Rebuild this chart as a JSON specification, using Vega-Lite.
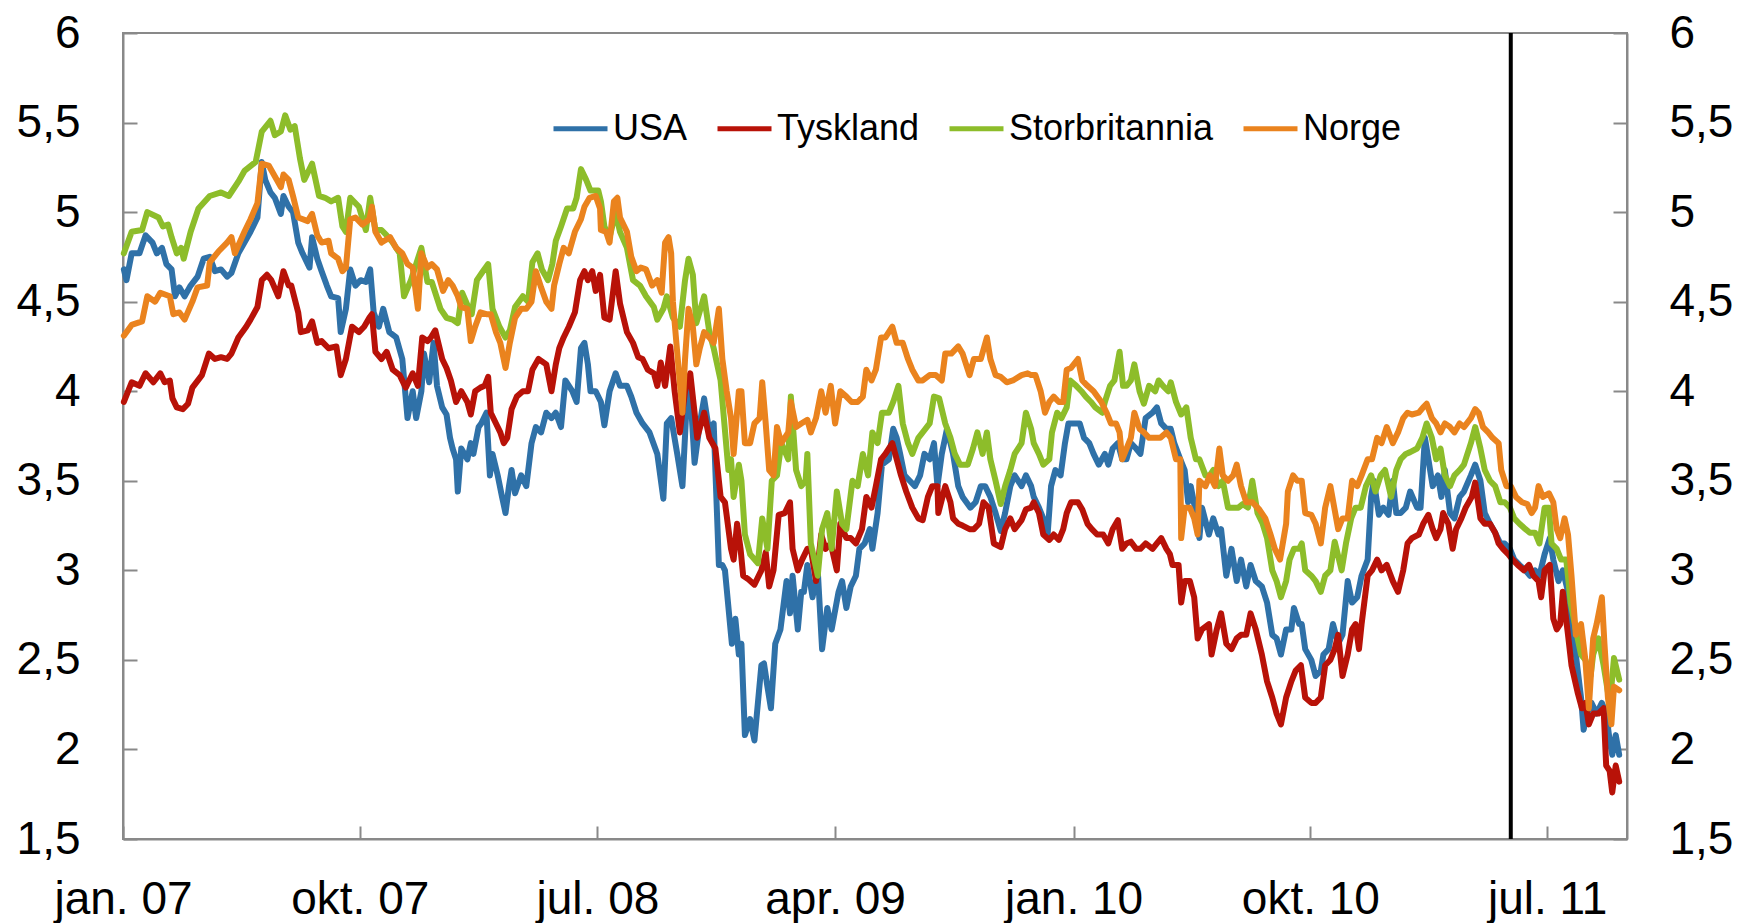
{
"$schema":"https://vega.github.io/schema/vega-lite/v6.json",
"width":1504,"height":806,
"autosize":{"type":"none"},
"padding":{"left":123,"top":33,"right":111,"bottom":84},
"background":"white",
"config":{
"view":{"stroke":"#898989","strokeWidth":2},
"font":"Liberation Sans",
"axis":{"domainColor":"#898989","domainWidth":2,"tickColor":"#898989","tickWidth":2,"grid":false,"labelColor":"#000000","labelFont":"Liberation Sans","labelFontSize":46,"title":null,"labelOverlap":false,"labelFlush":false,"labelBound":false}
},
"layer":[
{"data":{"values":[
{"d":"2007-01-02","s":"USA","v":4.68},{"d":"2007-01-05","s":"USA","v":4.62},{"d":"2007-01-11","s":"USA","v":4.77},{"d":"2007-01-20","s":"USA","v":4.77},{"d":"2007-01-27","s":"USA","v":4.87},{"d":"2007-02-04","s":"USA","v":4.83},{"d":"2007-02-09","s":"USA","v":4.77},{"d":"2007-02-15","s":"USA","v":4.80},{"d":"2007-02-20","s":"USA","v":4.71},{"d":"2007-02-26","s":"USA","v":4.68},{"d":"2007-03-02","s":"USA","v":4.53},{"d":"2007-03-07","s":"USA","v":4.58},{"d":"2007-03-13","s":"USA","v":4.53},{"d":"2007-03-20","s":"USA","v":4.59},{"d":"2007-03-28","s":"USA","v":4.64},{"d":"2007-04-04","s":"USA","v":4.74},{"d":"2007-04-11","s":"USA","v":4.75},{"d":"2007-04-17","s":"USA","v":4.67},{"d":"2007-04-24","s":"USA","v":4.68},{"d":"2007-05-01","s":"USA","v":4.64},{"d":"2007-05-06","s":"USA","v":4.66},{"d":"2007-05-14","s":"USA","v":4.77},{"d":"2007-05-21","s":"USA","v":4.83},{"d":"2007-05-28","s":"USA","v":4.89},{"d":"2007-06-05","s":"USA","v":4.97},{"d":"2007-06-10","s":"USA","v":5.28},{"d":"2007-06-14","s":"USA","v":5.18},{"d":"2007-06-20","s":"USA","v":5.11},{"d":"2007-06-25","s":"USA","v":5.08},{"d":"2007-07-02","s":"USA","v":4.99},{"d":"2007-07-05","s":"USA","v":5.09},{"d":"2007-07-11","s":"USA","v":5.03},{"d":"2007-07-16","s":"USA","v":5.00},{"d":"2007-07-22","s":"USA","v":4.83},{"d":"2007-07-27","s":"USA","v":4.77},{"d":"2007-08-04","s":"USA","v":4.69},{"d":"2007-08-07","s":"USA","v":4.86},{"d":"2007-08-13","s":"USA","v":4.74},{"d":"2007-08-18","s":"USA","v":4.67},{"d":"2007-08-24","s":"USA","v":4.59},{"d":"2007-08-29","s":"USA","v":4.53},{"d":"2007-09-06","s":"USA","v":4.52},{"d":"2007-09-09","s":"USA","v":4.33},{"d":"2007-09-15","s":"USA","v":4.46},{"d":"2007-09-20","s":"USA","v":4.68},{"d":"2007-09-26","s":"USA","v":4.59},{"d":"2007-10-02","s":"USA","v":4.62},{"d":"2007-10-08","s":"USA","v":4.61},{"d":"2007-10-13","s":"USA","v":4.68},{"d":"2007-10-17","s":"USA","v":4.44},{"d":"2007-10-23","s":"USA","v":4.36},{"d":"2007-10-28","s":"USA","v":4.46},{"d":"2007-11-04","s":"USA","v":4.33},{"d":"2007-11-12","s":"USA","v":4.30},{"d":"2007-11-19","s":"USA","v":4.18},{"d":"2007-11-25","s":"USA","v":3.85},{"d":"2007-12-01","s":"USA","v":4.00},{"d":"2007-12-05","s":"USA","v":3.85},{"d":"2007-12-11","s":"USA","v":4.00},{"d":"2007-12-14","s":"USA","v":4.21},{"d":"2007-12-20","s":"USA","v":4.05},{"d":"2007-12-25","s":"USA","v":4.27},{"d":"2007-12-29","s":"USA","v":4.03},
{"d":"2008-01-04","s":"USA","v":3.91},{"d":"2008-01-09","s":"USA","v":3.87},{"d":"2008-01-13","s":"USA","v":3.74},{"d":"2008-01-16","s":"USA","v":3.68},{"d":"2008-01-20","s":"USA","v":3.62},{"d":"2008-01-22","s":"USA","v":3.44},{"d":"2008-01-26","s":"USA","v":3.68},{"d":"2008-02-02","s":"USA","v":3.62},{"d":"2008-02-06","s":"USA","v":3.71},{"d":"2008-02-09","s":"USA","v":3.65},{"d":"2008-02-15","s":"USA","v":3.80},{"d":"2008-02-18","s":"USA","v":3.82},{"d":"2008-02-24","s":"USA","v":3.88},{"d":"2008-02-28","s":"USA","v":3.53},{"d":"2008-03-02","s":"USA","v":3.65},{"d":"2008-03-08","s":"USA","v":3.53},{"d":"2008-03-13","s":"USA","v":3.41},{"d":"2008-03-17","s":"USA","v":3.32},{"d":"2008-03-21","s":"USA","v":3.47},{"d":"2008-03-24","s":"USA","v":3.56},{"d":"2008-03-28","s":"USA","v":3.43},{"d":"2008-04-04","s":"USA","v":3.53},{"d":"2008-04-10","s":"USA","v":3.47},{"d":"2008-04-16","s":"USA","v":3.71},{"d":"2008-04-21","s":"USA","v":3.80},{"d":"2008-04-27","s":"USA","v":3.77},{"d":"2008-05-03","s":"USA","v":3.88},{"d":"2008-05-09","s":"USA","v":3.85},{"d":"2008-05-14","s":"USA","v":3.88},{"d":"2008-05-20","s":"USA","v":3.80},{"d":"2008-05-25","s":"USA","v":4.06},{"d":"2008-06-02","s":"USA","v":4.00},{"d":"2008-06-07","s":"USA","v":3.94},{"d":"2008-06-12","s":"USA","v":4.24},{"d":"2008-06-16","s":"USA","v":4.27},{"d":"2008-06-20","s":"USA","v":4.15},{"d":"2008-06-23","s":"USA","v":4.00},{"d":"2008-06-29","s":"USA","v":4.00},{"d":"2008-07-05","s":"USA","v":3.94},{"d":"2008-07-09","s":"USA","v":3.81},{"d":"2008-07-15","s":"USA","v":4.00},{"d":"2008-07-22","s":"USA","v":4.10},{"d":"2008-07-27","s":"USA","v":4.03},{"d":"2008-08-04","s":"USA","v":4.03},{"d":"2008-08-09","s":"USA","v":3.97},{"d":"2008-08-15","s":"USA","v":3.88},{"d":"2008-08-22","s":"USA","v":3.82},{"d":"2008-08-30","s":"USA","v":3.77},{"d":"2008-09-08","s":"USA","v":3.65},{"d":"2008-09-15","s":"USA","v":3.40},{"d":"2008-09-19","s":"USA","v":3.82},{"d":"2008-09-24","s":"USA","v":3.85},{"d":"2008-10-01","s":"USA","v":3.65},{"d":"2008-10-07","s":"USA","v":3.47},{"d":"2008-10-12","s":"USA","v":3.94},{"d":"2008-10-16","s":"USA","v":4.00},{"d":"2008-10-21","s":"USA","v":3.60},{"d":"2008-10-27","s":"USA","v":3.82},{"d":"2008-11-01","s":"USA","v":3.96},{"d":"2008-11-07","s":"USA","v":3.77},{"d":"2008-11-12","s":"USA","v":3.82},{"d":"2008-11-18","s":"USA","v":3.03},{"d":"2008-11-22","s":"USA","v":3.03},{"d":"2008-11-25","s":"USA","v":3.00},{"d":"2008-12-02","s":"USA","v":2.64},{"d":"2008-12-03","s":"USA","v":2.59},{"d":"2008-12-07","s":"USA","v":2.73},{"d":"2008-12-11","s":"USA","v":2.53},{"d":"2008-12-14","s":"USA","v":2.59},{"d":"2008-12-18","s":"USA","v":2.08},{"d":"2008-12-24","s":"USA","v":2.17},{"d":"2008-12-29","s":"USA","v":2.05},
{"d":"2009-01-06","s":"USA","v":2.47},{"d":"2009-01-09","s":"USA","v":2.48},{"d":"2009-01-13","s":"USA","v":2.35},{"d":"2009-01-17","s":"USA","v":2.23},{"d":"2009-01-22","s":"USA","v":2.59},{"d":"2009-01-28","s":"USA","v":2.67},{"d":"2009-02-04","s":"USA","v":2.94},{"d":"2009-02-08","s":"USA","v":2.76},{"d":"2009-02-11","s":"USA","v":2.97},{"d":"2009-02-17","s":"USA","v":2.67},{"d":"2009-02-21","s":"USA","v":2.88},{"d":"2009-02-24","s":"USA","v":2.88},{"d":"2009-02-28","s":"USA","v":3.03},{"d":"2009-03-06","s":"USA","v":2.85},{"d":"2009-03-12","s":"USA","v":3.00},{"d":"2009-03-17","s":"USA","v":2.56},{"d":"2009-03-23","s":"USA","v":2.79},{"d":"2009-03-28","s":"USA","v":2.67},{"d":"2009-04-05","s":"USA","v":2.88},{"d":"2009-04-09","s":"USA","v":2.94},{"d":"2009-04-14","s":"USA","v":2.79},{"d":"2009-04-19","s":"USA","v":2.91},{"d":"2009-04-25","s":"USA","v":2.97},{"d":"2009-04-29","s":"USA","v":3.12},{"d":"2009-05-05","s":"USA","v":3.15},{"d":"2009-05-11","s":"USA","v":3.23},{"d":"2009-05-14","s":"USA","v":3.12},{"d":"2009-05-20","s":"USA","v":3.32},{"d":"2009-05-25","s":"USA","v":3.59},{"d":"2009-06-02","s":"USA","v":3.62},{"d":"2009-06-07","s":"USA","v":3.79},{"d":"2009-06-11","s":"USA","v":3.74},{"d":"2009-06-15","s":"USA","v":3.65},{"d":"2009-06-20","s":"USA","v":3.53},{"d":"2009-06-26","s":"USA","v":3.50},{"d":"2009-07-02","s":"USA","v":3.47},{"d":"2009-07-08","s":"USA","v":3.53},{"d":"2009-07-13","s":"USA","v":3.65},{"d":"2009-07-19","s":"USA","v":3.62},{"d":"2009-07-24","s":"USA","v":3.71},{"d":"2009-07-28","s":"USA","v":3.47},{"d":"2009-08-02","s":"USA","v":3.65},{"d":"2009-08-08","s":"USA","v":3.79},{"d":"2009-08-15","s":"USA","v":3.65},{"d":"2009-08-21","s":"USA","v":3.47},{"d":"2009-08-26","s":"USA","v":3.41},{"d":"2009-09-04","s":"USA","v":3.35},{"d":"2009-09-10","s":"USA","v":3.38},{"d":"2009-09-16","s":"USA","v":3.47},{"d":"2009-09-21","s":"USA","v":3.47},{"d":"2009-09-27","s":"USA","v":3.41},{"d":"2009-10-03","s":"USA","v":3.32},{"d":"2009-10-09","s":"USA","v":3.22},{"d":"2009-10-14","s":"USA","v":3.32},{"d":"2009-10-20","s":"USA","v":3.47},{"d":"2009-10-25","s":"USA","v":3.53},{"d":"2009-11-02","s":"USA","v":3.47},{"d":"2009-11-07","s":"USA","v":3.53},{"d":"2009-11-13","s":"USA","v":3.47},{"d":"2009-11-16","s":"USA","v":3.41},{"d":"2009-11-22","s":"USA","v":3.35},{"d":"2009-11-27","s":"USA","v":3.29},{"d":"2009-12-02","s":"USA","v":3.20},{"d":"2009-12-06","s":"USA","v":3.47},{"d":"2009-12-11","s":"USA","v":3.56},{"d":"2009-12-17","s":"USA","v":3.53},{"d":"2009-12-22","s":"USA","v":3.71},{"d":"2009-12-26","s":"USA","v":3.82},
{"d":"2010-01-02","s":"USA","v":3.82},{"d":"2010-01-08","s":"USA","v":3.82},{"d":"2010-01-13","s":"USA","v":3.74},{"d":"2010-01-19","s":"USA","v":3.71},{"d":"2010-01-24","s":"USA","v":3.65},{"d":"2010-01-30","s":"USA","v":3.59},{"d":"2010-02-06","s":"USA","v":3.65},{"d":"2010-02-10","s":"USA","v":3.59},{"d":"2010-02-15","s":"USA","v":3.68},{"d":"2010-02-21","s":"USA","v":3.71},{"d":"2010-02-26","s":"USA","v":3.62},{"d":"2010-03-03","s":"USA","v":3.62},{"d":"2010-03-08","s":"USA","v":3.71},{"d":"2010-03-14","s":"USA","v":3.68},{"d":"2010-03-19","s":"USA","v":3.65},{"d":"2010-03-25","s":"USA","v":3.85},{"d":"2010-04-02","s":"USA","v":3.88},{"d":"2010-04-07","s":"USA","v":3.91},{"d":"2010-04-12","s":"USA","v":3.82},{"d":"2010-04-18","s":"USA","v":3.79},{"d":"2010-04-23","s":"USA","v":3.79},{"d":"2010-04-27","s":"USA","v":3.71},{"d":"2010-05-04","s":"USA","v":3.62},{"d":"2010-05-09","s":"USA","v":3.56},{"d":"2010-05-13","s":"USA","v":3.38},{"d":"2010-05-16","s":"USA","v":3.47},{"d":"2010-05-22","s":"USA","v":3.32},{"d":"2010-05-26","s":"USA","v":3.18},{"d":"2010-05-29","s":"USA","v":3.35},{"d":"2010-06-06","s":"USA","v":3.20},{"d":"2010-06-11","s":"USA","v":3.29},{"d":"2010-06-17","s":"USA","v":3.20},{"d":"2010-06-20","s":"USA","v":3.23},{"d":"2010-06-26","s":"USA","v":2.97},{"d":"2010-07-02","s":"USA","v":3.12},{"d":"2010-07-08","s":"USA","v":2.94},{"d":"2010-07-13","s":"USA","v":3.06},{"d":"2010-07-19","s":"USA","v":2.91},{"d":"2010-07-24","s":"USA","v":3.03},{"d":"2010-07-30","s":"USA","v":2.94},{"d":"2010-08-06","s":"USA","v":2.91},{"d":"2010-08-12","s":"USA","v":2.82},{"d":"2010-08-18","s":"USA","v":2.64},{"d":"2010-08-23","s":"USA","v":2.62},{"d":"2010-08-28","s":"USA","v":2.53},{"d":"2010-09-03","s":"USA","v":2.67},{"d":"2010-09-09","s":"USA","v":2.67},{"d":"2010-09-12","s":"USA","v":2.79},{"d":"2010-09-18","s":"USA","v":2.70},{"d":"2010-09-21","s":"USA","v":2.70},{"d":"2010-09-25","s":"USA","v":2.56},{"d":"2010-10-02","s":"USA","v":2.50},{"d":"2010-10-07","s":"USA","v":2.41},{"d":"2010-10-13","s":"USA","v":2.44},{"d":"2010-10-16","s":"USA","v":2.53},{"d":"2010-10-22","s":"USA","v":2.56},{"d":"2010-10-27","s":"USA","v":2.70},{"d":"2010-11-02","s":"USA","v":2.59},{"d":"2010-11-07","s":"USA","v":2.64},{"d":"2010-11-13","s":"USA","v":2.94},{"d":"2010-11-18","s":"USA","v":2.82},{"d":"2010-11-24","s":"USA","v":2.85},{"d":"2010-11-29","s":"USA","v":2.97},{"d":"2010-12-06","s":"USA","v":3.06},{"d":"2010-12-10","s":"USA","v":3.41},{"d":"2010-12-13","s":"USA","v":3.50},{"d":"2010-12-19","s":"USA","v":3.31},{"d":"2010-12-24","s":"USA","v":3.35},{"d":"2010-12-30","s":"USA","v":3.31},
{"d":"2011-01-04","s":"USA","v":3.50},{"d":"2011-01-08","s":"USA","v":3.32},{"d":"2011-01-13","s":"USA","v":3.32},{"d":"2011-01-19","s":"USA","v":3.35},{"d":"2011-01-24","s":"USA","v":3.44},{"d":"2011-02-01","s":"USA","v":3.35},{"d":"2011-02-05","s":"USA","v":3.35},{"d":"2011-02-10","s":"USA","v":3.74},{"d":"2011-02-14","s":"USA","v":3.62},{"d":"2011-02-19","s":"USA","v":3.47},{"d":"2011-02-25","s":"USA","v":3.53},{"d":"2011-03-01","s":"USA","v":3.41},{"d":"2011-03-05","s":"USA","v":3.56},{"d":"2011-03-11","s":"USA","v":3.32},{"d":"2011-03-16","s":"USA","v":3.29},{"d":"2011-03-22","s":"USA","v":3.41},{"d":"2011-03-27","s":"USA","v":3.44},{"d":"2011-04-04","s":"USA","v":3.53},{"d":"2011-04-09","s":"USA","v":3.59},{"d":"2011-04-15","s":"USA","v":3.50},{"d":"2011-04-20","s":"USA","v":3.32},{"d":"2011-04-26","s":"USA","v":3.26},{"d":"2011-05-02","s":"USA","v":3.21},{"d":"2011-05-08","s":"USA","v":3.15},{"d":"2011-05-13","s":"USA","v":3.15},{"d":"2011-05-19","s":"USA","v":3.12},{"d":"2011-05-24","s":"USA","v":3.06},{"d":"2011-05-30","s":"USA","v":3.03},{"d":"2011-06-06","s":"USA","v":3.00},{"d":"2011-06-11","s":"USA","v":2.97},{"d":"2011-06-17","s":"USA","v":3.00},{"d":"2011-06-22","s":"USA","v":2.97},{"d":"2011-06-28","s":"USA","v":3.09},{"d":"2011-07-04","s":"USA","v":3.18},{"d":"2011-07-08","s":"USA","v":3.06},{"d":"2011-07-14","s":"USA","v":2.94},{"d":"2011-07-19","s":"USA","v":3.00},{"d":"2011-07-25","s":"USA","v":2.88},{"d":"2011-07-28","s":"USA","v":2.67},{"d":"2011-08-03","s":"USA","v":2.53},{"d":"2011-08-09","s":"USA","v":2.29},{"d":"2011-08-12","s":"USA","v":2.11},{"d":"2011-08-16","s":"USA","v":2.20},{"d":"2011-08-21","s":"USA","v":2.26},{"d":"2011-08-27","s":"USA","v":2.20},{"d":"2011-09-02","s":"USA","v":2.26},{"d":"2011-09-07","s":"USA","v":2.20},{"d":"2011-09-11","s":"USA","v":2.05},{"d":"2011-09-14","s":"USA","v":1.97},{"d":"2011-09-18","s":"USA","v":2.08},{"d":"2011-09-22","s":"USA","v":1.97},
{"d":"2007-01-02","s":"Tyskland","v":3.94},{"d":"2007-01-11","s":"Tyskland","v":4.05},{"d":"2007-01-20","s":"Tyskland","v":4.03},{"d":"2007-01-27","s":"Tyskland","v":4.10},{"d":"2007-02-05","s":"Tyskland","v":4.05},{"d":"2007-02-13","s":"Tyskland","v":4.10},{"d":"2007-02-18","s":"Tyskland","v":4.05},{"d":"2007-02-24","s":"Tyskland","v":4.06},{"d":"2007-02-27","s":"Tyskland","v":3.96},{"d":"2007-03-04","s":"Tyskland","v":3.91},{"d":"2007-03-11","s":"Tyskland","v":3.90},{"d":"2007-03-17","s":"Tyskland","v":3.93},{"d":"2007-03-22","s":"Tyskland","v":4.02},{"d":"2007-04-02","s":"Tyskland","v":4.09},{"d":"2007-04-10","s":"Tyskland","v":4.21},{"d":"2007-04-17","s":"Tyskland","v":4.18},{"d":"2007-04-24","s":"Tyskland","v":4.19},{"d":"2007-05-01","s":"Tyskland","v":4.18},{"d":"2007-05-06","s":"Tyskland","v":4.21},{"d":"2007-05-14","s":"Tyskland","v":4.30},{"d":"2007-05-23","s":"Tyskland","v":4.36},{"d":"2007-05-28","s":"Tyskland","v":4.40},{"d":"2007-06-05","s":"Tyskland","v":4.47},{"d":"2007-06-10","s":"Tyskland","v":4.62},{"d":"2007-06-16","s":"Tyskland","v":4.65},{"d":"2007-06-21","s":"Tyskland","v":4.62},{"d":"2007-06-29","s":"Tyskland","v":4.53},{"d":"2007-07-05","s":"Tyskland","v":4.67},{"d":"2007-07-11","s":"Tyskland","v":4.59},{"d":"2007-07-14","s":"Tyskland","v":4.59},{"d":"2007-07-22","s":"Tyskland","v":4.44},{"d":"2007-07-25","s":"Tyskland","v":4.33},{"d":"2007-08-02","s":"Tyskland","v":4.34},{"d":"2007-08-07","s":"Tyskland","v":4.39},{"d":"2007-08-13","s":"Tyskland","v":4.27},{"d":"2007-08-18","s":"Tyskland","v":4.28},{"d":"2007-08-26","s":"Tyskland","v":4.24},{"d":"2007-09-04","s":"Tyskland","v":4.25},{"d":"2007-09-09","s":"Tyskland","v":4.09},{"d":"2007-09-15","s":"Tyskland","v":4.18},{"d":"2007-09-22","s":"Tyskland","v":4.36},{"d":"2007-09-30","s":"Tyskland","v":4.33},{"d":"2007-10-06","s":"Tyskland","v":4.36},{"d":"2007-10-12","s":"Tyskland","v":4.41},{"d":"2007-10-15","s":"Tyskland","v":4.43},{"d":"2007-10-19","s":"Tyskland","v":4.22},{"d":"2007-10-26","s":"Tyskland","v":4.18},{"d":"2007-11-01","s":"Tyskland","v":4.22},{"d":"2007-11-08","s":"Tyskland","v":4.12},{"d":"2007-11-16","s":"Tyskland","v":4.09},{"d":"2007-11-23","s":"Tyskland","v":4.02},{"d":"2007-12-01","s":"Tyskland","v":4.10},{"d":"2007-12-07","s":"Tyskland","v":4.03},{"d":"2007-12-12","s":"Tyskland","v":4.30},{"d":"2007-12-18","s":"Tyskland","v":4.28},{"d":"2007-12-22","s":"Tyskland","v":4.30},{"d":"2007-12-27","s":"Tyskland","v":4.34},
{"d":"2008-01-04","s":"Tyskland","v":4.18},{"d":"2008-01-09","s":"Tyskland","v":4.13},{"d":"2008-01-14","s":"Tyskland","v":4.06},{"d":"2008-01-20","s":"Tyskland","v":3.94},{"d":"2008-01-26","s":"Tyskland","v":4.00},{"d":"2008-02-02","s":"Tyskland","v":3.94},{"d":"2008-02-06","s":"Tyskland","v":3.87},{"d":"2008-02-11","s":"Tyskland","v":4.00},{"d":"2008-02-17","s":"Tyskland","v":4.02},{"d":"2008-02-22","s":"Tyskland","v":4.03},{"d":"2008-02-26","s":"Tyskland","v":4.08},{"d":"2008-02-29","s":"Tyskland","v":3.88},{"d":"2008-03-06","s":"Tyskland","v":3.82},{"d":"2008-03-11","s":"Tyskland","v":3.77},{"d":"2008-03-15","s":"Tyskland","v":3.71},{"d":"2008-03-19","s":"Tyskland","v":3.74},{"d":"2008-03-24","s":"Tyskland","v":3.90},{"d":"2008-03-30","s":"Tyskland","v":3.97},{"d":"2008-04-06","s":"Tyskland","v":4.00},{"d":"2008-04-12","s":"Tyskland","v":4.00},{"d":"2008-04-17","s":"Tyskland","v":4.12},{"d":"2008-04-24","s":"Tyskland","v":4.18},{"d":"2008-05-03","s":"Tyskland","v":4.15},{"d":"2008-05-09","s":"Tyskland","v":4.00},{"d":"2008-05-14","s":"Tyskland","v":4.15},{"d":"2008-05-18","s":"Tyskland","v":4.24},{"d":"2008-05-23","s":"Tyskland","v":4.30},{"d":"2008-05-29","s":"Tyskland","v":4.36},{"d":"2008-06-05","s":"Tyskland","v":4.44},{"d":"2008-06-11","s":"Tyskland","v":4.62},{"d":"2008-06-16","s":"Tyskland","v":4.67},{"d":"2008-06-20","s":"Tyskland","v":4.62},{"d":"2008-06-25","s":"Tyskland","v":4.67},{"d":"2008-06-29","s":"Tyskland","v":4.56},{"d":"2008-07-04","s":"Tyskland","v":4.65},{"d":"2008-07-09","s":"Tyskland","v":4.41},{"d":"2008-07-15","s":"Tyskland","v":4.40},{"d":"2008-07-22","s":"Tyskland","v":4.67},{"d":"2008-07-27","s":"Tyskland","v":4.49},{"d":"2008-08-04","s":"Tyskland","v":4.33},{"d":"2008-08-11","s":"Tyskland","v":4.27},{"d":"2008-08-17","s":"Tyskland","v":4.19},{"d":"2008-08-22","s":"Tyskland","v":4.18},{"d":"2008-08-28","s":"Tyskland","v":4.12},{"d":"2008-09-04","s":"Tyskland","v":4.10},{"d":"2008-09-08","s":"Tyskland","v":4.03},{"d":"2008-09-12","s":"Tyskland","v":4.16},{"d":"2008-09-17","s":"Tyskland","v":4.03},{"d":"2008-09-23","s":"Tyskland","v":4.25},{"d":"2008-09-28","s":"Tyskland","v":4.00},{"d":"2008-10-04","s":"Tyskland","v":3.77},{"d":"2008-10-10","s":"Tyskland","v":4.00},{"d":"2008-10-16","s":"Tyskland","v":4.10},{"d":"2008-10-21","s":"Tyskland","v":3.88},{"d":"2008-10-24","s":"Tyskland","v":3.74},{"d":"2008-11-01","s":"Tyskland","v":3.88},{"d":"2008-11-07","s":"Tyskland","v":3.74},{"d":"2008-11-14","s":"Tyskland","v":3.68},{"d":"2008-11-20","s":"Tyskland","v":3.41},{"d":"2008-11-25","s":"Tyskland","v":3.38},{"d":"2008-12-02","s":"Tyskland","v":3.12},{"d":"2008-12-05","s":"Tyskland","v":3.06},{"d":"2008-12-09","s":"Tyskland","v":3.26},{"d":"2008-12-13","s":"Tyskland","v":3.12},{"d":"2008-12-16","s":"Tyskland","v":2.97},{"d":"2008-12-22","s":"Tyskland","v":2.95},{"d":"2008-12-29","s":"Tyskland","v":2.92},
{"d":"2009-01-06","s":"Tyskland","v":3.00},{"d":"2009-01-11","s":"Tyskland","v":3.10},{"d":"2009-01-15","s":"Tyskland","v":2.91},{"d":"2009-01-20","s":"Tyskland","v":3.00},{"d":"2009-01-26","s":"Tyskland","v":3.31},{"d":"2009-02-02","s":"Tyskland","v":3.32},{"d":"2009-02-08","s":"Tyskland","v":3.38},{"d":"2009-02-11","s":"Tyskland","v":3.12},{"d":"2009-02-17","s":"Tyskland","v":3.00},{"d":"2009-02-22","s":"Tyskland","v":3.06},{"d":"2009-02-28","s":"Tyskland","v":3.12},{"d":"2009-03-04","s":"Tyskland","v":3.12},{"d":"2009-03-10","s":"Tyskland","v":2.94},{"d":"2009-03-16","s":"Tyskland","v":3.20},{"d":"2009-03-21","s":"Tyskland","v":3.12},{"d":"2009-03-27","s":"Tyskland","v":3.15},{"d":"2009-04-03","s":"Tyskland","v":3.00},{"d":"2009-04-07","s":"Tyskland","v":3.26},{"d":"2009-04-14","s":"Tyskland","v":3.18},{"d":"2009-04-19","s":"Tyskland","v":3.18},{"d":"2009-04-25","s":"Tyskland","v":3.15},{"d":"2009-05-02","s":"Tyskland","v":3.23},{"d":"2009-05-07","s":"Tyskland","v":3.41},{"d":"2009-05-13","s":"Tyskland","v":3.35},{"d":"2009-05-18","s":"Tyskland","v":3.47},{"d":"2009-05-24","s":"Tyskland","v":3.62},{"d":"2009-05-29","s":"Tyskland","v":3.65},{"d":"2009-06-06","s":"Tyskland","v":3.71},{"d":"2009-06-11","s":"Tyskland","v":3.62},{"d":"2009-06-16","s":"Tyskland","v":3.53},{"d":"2009-06-22","s":"Tyskland","v":3.44},{"d":"2009-06-29","s":"Tyskland","v":3.35},{"d":"2009-07-06","s":"Tyskland","v":3.29},{"d":"2009-07-11","s":"Tyskland","v":3.28},{"d":"2009-07-17","s":"Tyskland","v":3.41},{"d":"2009-07-22","s":"Tyskland","v":3.47},{"d":"2009-07-28","s":"Tyskland","v":3.47},{"d":"2009-07-29","s":"Tyskland","v":3.32},{"d":"2009-08-06","s":"Tyskland","v":3.47},{"d":"2009-08-12","s":"Tyskland","v":3.38},{"d":"2009-08-15","s":"Tyskland","v":3.29},{"d":"2009-08-21","s":"Tyskland","v":3.26},{"d":"2009-08-26","s":"Tyskland","v":3.25},{"d":"2009-09-03","s":"Tyskland","v":3.23},{"d":"2009-09-08","s":"Tyskland","v":3.23},{"d":"2009-09-14","s":"Tyskland","v":3.26},{"d":"2009-09-19","s":"Tyskland","v":3.38},{"d":"2009-09-25","s":"Tyskland","v":3.35},{"d":"2009-10-01","s":"Tyskland","v":3.15},{"d":"2009-10-09","s":"Tyskland","v":3.13},{"d":"2009-10-14","s":"Tyskland","v":3.23},{"d":"2009-10-20","s":"Tyskland","v":3.29},{"d":"2009-10-25","s":"Tyskland","v":3.23},{"d":"2009-11-02","s":"Tyskland","v":3.28},{"d":"2009-11-07","s":"Tyskland","v":3.34},{"d":"2009-11-13","s":"Tyskland","v":3.35},{"d":"2009-11-16","s":"Tyskland","v":3.38},{"d":"2009-11-22","s":"Tyskland","v":3.32},{"d":"2009-11-27","s":"Tyskland","v":3.20},{"d":"2009-12-04","s":"Tyskland","v":3.17},{"d":"2009-12-09","s":"Tyskland","v":3.20},{"d":"2009-12-15","s":"Tyskland","v":3.17},{"d":"2009-12-20","s":"Tyskland","v":3.23},{"d":"2009-12-24","s":"Tyskland","v":3.32},{"d":"2009-12-29","s":"Tyskland","v":3.38},
{"d":"2010-01-06","s":"Tyskland","v":3.38},{"d":"2010-01-11","s":"Tyskland","v":3.34},{"d":"2010-01-17","s":"Tyskland","v":3.26},{"d":"2010-01-22","s":"Tyskland","v":3.23},{"d":"2010-01-28","s":"Tyskland","v":3.20},{"d":"2010-02-04","s":"Tyskland","v":3.20},{"d":"2010-02-10","s":"Tyskland","v":3.15},{"d":"2010-02-15","s":"Tyskland","v":3.23},{"d":"2010-02-21","s":"Tyskland","v":3.28},{"d":"2010-02-26","s":"Tyskland","v":3.12},{"d":"2010-03-03","s":"Tyskland","v":3.15},{"d":"2010-03-08","s":"Tyskland","v":3.16},{"d":"2010-03-14","s":"Tyskland","v":3.12},{"d":"2010-03-19","s":"Tyskland","v":3.12},{"d":"2010-03-25","s":"Tyskland","v":3.15},{"d":"2010-04-02","s":"Tyskland","v":3.12},{"d":"2010-04-07","s":"Tyskland","v":3.15},{"d":"2010-04-12","s":"Tyskland","v":3.18},{"d":"2010-04-18","s":"Tyskland","v":3.12},{"d":"2010-04-22","s":"Tyskland","v":3.09},{"d":"2010-04-25","s":"Tyskland","v":3.03},{"d":"2010-05-02","s":"Tyskland","v":3.03},{"d":"2010-05-05","s":"Tyskland","v":2.82},{"d":"2010-05-09","s":"Tyskland","v":2.94},{"d":"2010-05-15","s":"Tyskland","v":2.94},{"d":"2010-05-20","s":"Tyskland","v":2.85},{"d":"2010-05-24","s":"Tyskland","v":2.62},{"d":"2010-05-29","s":"Tyskland","v":2.67},{"d":"2010-06-06","s":"Tyskland","v":2.70},{"d":"2010-06-09","s":"Tyskland","v":2.53},{"d":"2010-06-15","s":"Tyskland","v":2.67},{"d":"2010-06-20","s":"Tyskland","v":2.76},{"d":"2010-06-26","s":"Tyskland","v":2.59},{"d":"2010-07-02","s":"Tyskland","v":2.56},{"d":"2010-07-08","s":"Tyskland","v":2.62},{"d":"2010-07-13","s":"Tyskland","v":2.64},{"d":"2010-07-19","s":"Tyskland","v":2.64},{"d":"2010-07-24","s":"Tyskland","v":2.76},{"d":"2010-07-30","s":"Tyskland","v":2.67},{"d":"2010-08-06","s":"Tyskland","v":2.53},{"d":"2010-08-12","s":"Tyskland","v":2.38},{"d":"2010-08-18","s":"Tyskland","v":2.29},{"d":"2010-08-23","s":"Tyskland","v":2.20},{"d":"2010-08-28","s":"Tyskland","v":2.14},{"d":"2010-09-03","s":"Tyskland","v":2.29},{"d":"2010-09-09","s":"Tyskland","v":2.38},{"d":"2010-09-14","s":"Tyskland","v":2.44},{"d":"2010-09-20","s":"Tyskland","v":2.47},{"d":"2010-09-25","s":"Tyskland","v":2.29},{"d":"2010-10-02","s":"Tyskland","v":2.26},{"d":"2010-10-07","s":"Tyskland","v":2.26},{"d":"2010-10-13","s":"Tyskland","v":2.29},{"d":"2010-10-18","s":"Tyskland","v":2.47},{"d":"2010-10-24","s":"Tyskland","v":2.50},{"d":"2010-10-29","s":"Tyskland","v":2.56},{"d":"2010-11-02","s":"Tyskland","v":2.64},{"d":"2010-11-07","s":"Tyskland","v":2.41},{"d":"2010-11-13","s":"Tyskland","v":2.53},{"d":"2010-11-18","s":"Tyskland","v":2.67},{"d":"2010-11-22","s":"Tyskland","v":2.70},{"d":"2010-11-26","s":"Tyskland","v":2.56},{"d":"2010-11-29","s":"Tyskland","v":2.70},{"d":"2010-12-06","s":"Tyskland","v":2.97},{"d":"2010-12-11","s":"Tyskland","v":3.00},{"d":"2010-12-17","s":"Tyskland","v":3.06},{"d":"2010-12-22","s":"Tyskland","v":3.00},{"d":"2010-12-28","s":"Tyskland","v":3.03},
{"d":"2011-01-04","s":"Tyskland","v":2.94},{"d":"2011-01-10","s":"Tyskland","v":2.88},{"d":"2011-01-16","s":"Tyskland","v":3.00},{"d":"2011-01-21","s":"Tyskland","v":3.15},{"d":"2011-01-26","s":"Tyskland","v":3.18},{"d":"2011-02-03","s":"Tyskland","v":3.20},{"d":"2011-02-08","s":"Tyskland","v":3.26},{"d":"2011-02-14","s":"Tyskland","v":3.31},{"d":"2011-02-19","s":"Tyskland","v":3.23},{"d":"2011-02-23","s":"Tyskland","v":3.18},{"d":"2011-02-28","s":"Tyskland","v":3.23},{"d":"2011-03-03","s":"Tyskland","v":3.32},{"d":"2011-03-09","s":"Tyskland","v":3.26},{"d":"2011-03-14","s":"Tyskland","v":3.12},{"d":"2011-03-18","s":"Tyskland","v":3.23},{"d":"2011-03-24","s":"Tyskland","v":3.29},{"d":"2011-03-29","s":"Tyskland","v":3.35},{"d":"2011-04-05","s":"Tyskland","v":3.41},{"d":"2011-04-09","s":"Tyskland","v":3.49},{"d":"2011-04-15","s":"Tyskland","v":3.29},{"d":"2011-04-20","s":"Tyskland","v":3.26},{"d":"2011-04-26","s":"Tyskland","v":3.26},{"d":"2011-05-02","s":"Tyskland","v":3.21},{"d":"2011-05-06","s":"Tyskland","v":3.15},{"d":"2011-05-11","s":"Tyskland","v":3.12},{"d":"2011-05-17","s":"Tyskland","v":3.09},{"d":"2011-05-22","s":"Tyskland","v":3.06},{"d":"2011-05-28","s":"Tyskland","v":3.03},{"d":"2011-06-04","s":"Tyskland","v":3.00},{"d":"2011-06-10","s":"Tyskland","v":3.03},{"d":"2011-06-15","s":"Tyskland","v":2.97},{"d":"2011-06-21","s":"Tyskland","v":2.94},{"d":"2011-06-24","s":"Tyskland","v":2.85},{"d":"2011-06-28","s":"Tyskland","v":3.00},{"d":"2011-07-04","s":"Tyskland","v":3.03},{"d":"2011-07-08","s":"Tyskland","v":2.73},{"d":"2011-07-12","s":"Tyskland","v":2.67},{"d":"2011-07-16","s":"Tyskland","v":2.70},{"d":"2011-07-19","s":"Tyskland","v":2.88},{"d":"2011-07-25","s":"Tyskland","v":2.64},{"d":"2011-07-29","s":"Tyskland","v":2.47},{"d":"2011-08-05","s":"Tyskland","v":2.32},{"d":"2011-08-10","s":"Tyskland","v":2.23},{"d":"2011-08-14","s":"Tyskland","v":2.26},{"d":"2011-08-18","s":"Tyskland","v":2.14},{"d":"2011-08-23","s":"Tyskland","v":2.20},{"d":"2011-08-29","s":"Tyskland","v":2.20},{"d":"2011-09-04","s":"Tyskland","v":2.23},{"d":"2011-09-07","s":"Tyskland","v":1.91},{"d":"2011-09-11","s":"Tyskland","v":1.88},{"d":"2011-09-14","s":"Tyskland","v":1.76},{"d":"2011-09-18","s":"Tyskland","v":1.91},{"d":"2011-09-22","s":"Tyskland","v":1.82},
{"d":"2007-01-02","s":"Storbritannia","v":4.77},{"d":"2007-01-11","s":"Storbritannia","v":4.89},{"d":"2007-01-23","s":"Storbritannia","v":4.90},{"d":"2007-01-29","s":"Storbritannia","v":5.00},{"d":"2007-02-11","s":"Storbritannia","v":4.97},{"d":"2007-02-16","s":"Storbritannia","v":4.92},{"d":"2007-02-22","s":"Storbritannia","v":4.93},{"d":"2007-02-26","s":"Storbritannia","v":4.86},{"d":"2007-03-04","s":"Storbritannia","v":4.77},{"d":"2007-03-09","s":"Storbritannia","v":4.80},{"d":"2007-03-12","s":"Storbritannia","v":4.74},{"d":"2007-03-20","s":"Storbritannia","v":4.89},{"d":"2007-03-29","s":"Storbritannia","v":5.02},{"d":"2007-04-11","s":"Storbritannia","v":5.09},{"d":"2007-04-24","s":"Storbritannia","v":5.11},{"d":"2007-05-03","s":"Storbritannia","v":5.09},{"d":"2007-05-14","s":"Storbritannia","v":5.17},{"d":"2007-05-21","s":"Storbritannia","v":5.23},{"d":"2007-06-03","s":"Storbritannia","v":5.28},{"d":"2007-06-10","s":"Storbritannia","v":5.45},{"d":"2007-06-20","s":"Storbritannia","v":5.51},{"d":"2007-06-25","s":"Storbritannia","v":5.43},{"d":"2007-07-02","s":"Storbritannia","v":5.45},{"d":"2007-07-07","s":"Storbritannia","v":5.54},{"d":"2007-07-13","s":"Storbritannia","v":5.46},{"d":"2007-07-18","s":"Storbritannia","v":5.48},{"d":"2007-07-24","s":"Storbritannia","v":5.30},{"d":"2007-07-29","s":"Storbritannia","v":5.18},{"d":"2007-08-07","s":"Storbritannia","v":5.27},{"d":"2007-08-15","s":"Storbritannia","v":5.09},{"d":"2007-08-22","s":"Storbritannia","v":5.08},{"d":"2007-08-29","s":"Storbritannia","v":5.06},{"d":"2007-09-06","s":"Storbritannia","v":5.08},{"d":"2007-09-11","s":"Storbritannia","v":4.92},{"d":"2007-09-15","s":"Storbritannia","v":4.89},{"d":"2007-09-20","s":"Storbritannia","v":5.08},{"d":"2007-09-30","s":"Storbritannia","v":5.03},{"d":"2007-10-08","s":"Storbritannia","v":4.90},{"d":"2007-10-13","s":"Storbritannia","v":5.08},{"d":"2007-10-19","s":"Storbritannia","v":4.90},{"d":"2007-10-26","s":"Storbritannia","v":4.90},{"d":"2007-11-01","s":"Storbritannia","v":4.87},{"d":"2007-11-08","s":"Storbritannia","v":4.83},{"d":"2007-11-16","s":"Storbritannia","v":4.77},{"d":"2007-11-21","s":"Storbritannia","v":4.53},{"d":"2007-11-29","s":"Storbritannia","v":4.62},{"d":"2007-12-11","s":"Storbritannia","v":4.80},{"d":"2007-12-18","s":"Storbritannia","v":4.61},{"d":"2007-12-23","s":"Storbritannia","v":4.61},
{"d":"2008-01-02","s":"Storbritannia","v":4.46},{"d":"2008-01-09","s":"Storbritannia","v":4.41},{"d":"2008-01-16","s":"Storbritannia","v":4.40},{"d":"2008-01-22","s":"Storbritannia","v":4.38},{"d":"2008-01-27","s":"Storbritannia","v":4.55},{"d":"2008-02-04","s":"Storbritannia","v":4.46},{"d":"2008-02-07","s":"Storbritannia","v":4.43},{"d":"2008-02-13","s":"Storbritannia","v":4.62},{"d":"2008-02-20","s":"Storbritannia","v":4.67},{"d":"2008-02-26","s":"Storbritannia","v":4.71},{"d":"2008-03-02","s":"Storbritannia","v":4.46},{"d":"2008-03-10","s":"Storbritannia","v":4.36},{"d":"2008-03-17","s":"Storbritannia","v":4.30},{"d":"2008-03-22","s":"Storbritannia","v":4.34},{"d":"2008-03-28","s":"Storbritannia","v":4.47},{"d":"2008-04-06","s":"Storbritannia","v":4.53},{"d":"2008-04-12","s":"Storbritannia","v":4.50},{"d":"2008-04-17","s":"Storbritannia","v":4.72},{"d":"2008-04-23","s":"Storbritannia","v":4.77},{"d":"2008-04-28","s":"Storbritannia","v":4.68},{"d":"2008-05-05","s":"Storbritannia","v":4.62},{"d":"2008-05-10","s":"Storbritannia","v":4.71},{"d":"2008-05-14","s":"Storbritannia","v":4.84},{"d":"2008-05-20","s":"Storbritannia","v":4.92},{"d":"2008-05-27","s":"Storbritannia","v":5.02},{"d":"2008-06-03","s":"Storbritannia","v":5.02},{"d":"2008-06-07","s":"Storbritannia","v":5.08},{"d":"2008-06-12","s":"Storbritannia","v":5.24},{"d":"2008-06-18","s":"Storbritannia","v":5.18},{"d":"2008-06-23","s":"Storbritannia","v":5.12},{"d":"2008-07-02","s":"Storbritannia","v":5.12},{"d":"2008-07-05","s":"Storbritannia","v":5.06},{"d":"2008-07-09","s":"Storbritannia","v":4.92},{"d":"2008-07-15","s":"Storbritannia","v":4.86},{"d":"2008-07-22","s":"Storbritannia","v":5.00},{"d":"2008-07-27","s":"Storbritannia","v":4.89},{"d":"2008-08-04","s":"Storbritannia","v":4.80},{"d":"2008-08-11","s":"Storbritannia","v":4.62},{"d":"2008-08-19","s":"Storbritannia","v":4.59},{"d":"2008-08-26","s":"Storbritannia","v":4.53},{"d":"2008-09-04","s":"Storbritannia","v":4.47},{"d":"2008-09-08","s":"Storbritannia","v":4.40},{"d":"2008-09-15","s":"Storbritannia","v":4.46},{"d":"2008-09-19","s":"Storbritannia","v":4.53},{"d":"2008-09-26","s":"Storbritannia","v":4.41},{"d":"2008-10-04","s":"Storbritannia","v":4.36},{"d":"2008-10-10","s":"Storbritannia","v":4.62},{"d":"2008-10-14","s":"Storbritannia","v":4.74},{"d":"2008-10-19","s":"Storbritannia","v":4.65},{"d":"2008-10-23","s":"Storbritannia","v":4.38},{"d":"2008-11-01","s":"Storbritannia","v":4.53},{"d":"2008-11-07","s":"Storbritannia","v":4.33},{"d":"2008-11-12","s":"Storbritannia","v":4.24},{"d":"2008-11-20","s":"Storbritannia","v":4.06},{"d":"2008-11-29","s":"Storbritannia","v":3.56},{"d":"2008-12-02","s":"Storbritannia","v":3.62},{"d":"2008-12-05","s":"Storbritannia","v":3.41},{"d":"2008-12-11","s":"Storbritannia","v":3.59},{"d":"2008-12-14","s":"Storbritannia","v":3.50},{"d":"2008-12-18","s":"Storbritannia","v":3.20},{"d":"2008-12-24","s":"Storbritannia","v":3.09},
{"d":"2009-01-02","s":"Storbritannia","v":3.04},{"d":"2009-01-07","s":"Storbritannia","v":3.29},{"d":"2009-01-13","s":"Storbritannia","v":3.12},{"d":"2009-01-18","s":"Storbritannia","v":3.50},{"d":"2009-01-24","s":"Storbritannia","v":3.53},{"d":"2009-01-29","s":"Storbritannia","v":3.71},{"d":"2009-02-06","s":"Storbritannia","v":3.62},{"d":"2009-02-09","s":"Storbritannia","v":3.97},{"d":"2009-02-15","s":"Storbritannia","v":3.56},{"d":"2009-02-21","s":"Storbritannia","v":3.47},{"d":"2009-02-26","s":"Storbritannia","v":3.50},{"d":"2009-02-28","s":"Storbritannia","v":3.65},{"d":"2009-03-04","s":"Storbritannia","v":3.15},{"d":"2009-03-12","s":"Storbritannia","v":2.97},{"d":"2009-03-17","s":"Storbritannia","v":3.23},{"d":"2009-03-23","s":"Storbritannia","v":3.32},{"d":"2009-03-28","s":"Storbritannia","v":3.12},{"d":"2009-04-03","s":"Storbritannia","v":3.44},{"d":"2009-04-09","s":"Storbritannia","v":3.26},{"d":"2009-04-14","s":"Storbritannia","v":3.23},{"d":"2009-04-21","s":"Storbritannia","v":3.50},{"d":"2009-04-27","s":"Storbritannia","v":3.47},{"d":"2009-05-03","s":"Storbritannia","v":3.65},{"d":"2009-05-09","s":"Storbritannia","v":3.53},{"d":"2009-05-14","s":"Storbritannia","v":3.77},{"d":"2009-05-20","s":"Storbritannia","v":3.71},{"d":"2009-05-25","s":"Storbritannia","v":3.88},{"d":"2009-06-02","s":"Storbritannia","v":3.88},{"d":"2009-06-07","s":"Storbritannia","v":3.94},{"d":"2009-06-13","s":"Storbritannia","v":4.03},{"d":"2009-06-18","s":"Storbritannia","v":3.82},{"d":"2009-06-24","s":"Storbritannia","v":3.71},{"d":"2009-06-29","s":"Storbritannia","v":3.65},{"d":"2009-07-06","s":"Storbritannia","v":3.74},{"d":"2009-07-11","s":"Storbritannia","v":3.77},{"d":"2009-07-19","s":"Storbritannia","v":3.82},{"d":"2009-07-24","s":"Storbritannia","v":3.97},{"d":"2009-07-30","s":"Storbritannia","v":3.96},{"d":"2009-08-06","s":"Storbritannia","v":3.82},{"d":"2009-08-12","s":"Storbritannia","v":3.74},{"d":"2009-08-17","s":"Storbritannia","v":3.65},{"d":"2009-08-23","s":"Storbritannia","v":3.59},{"d":"2009-09-01","s":"Storbritannia","v":3.59},{"d":"2009-09-07","s":"Storbritannia","v":3.68},{"d":"2009-09-12","s":"Storbritannia","v":3.77},{"d":"2009-09-18","s":"Storbritannia","v":3.65},{"d":"2009-09-23","s":"Storbritannia","v":3.77},{"d":"2009-09-27","s":"Storbritannia","v":3.62},{"d":"2009-10-03","s":"Storbritannia","v":3.50},{"d":"2009-10-09","s":"Storbritannia","v":3.37},{"d":"2009-10-14","s":"Storbritannia","v":3.47},{"d":"2009-10-20","s":"Storbritannia","v":3.56},{"d":"2009-10-25","s":"Storbritannia","v":3.65},{"d":"2009-11-02","s":"Storbritannia","v":3.71},{"d":"2009-11-07","s":"Storbritannia","v":3.88},{"d":"2009-11-13","s":"Storbritannia","v":3.79},{"d":"2009-11-16","s":"Storbritannia","v":3.71},{"d":"2009-11-22","s":"Storbritannia","v":3.65},{"d":"2009-11-27","s":"Storbritannia","v":3.59},{"d":"2009-12-04","s":"Storbritannia","v":3.62},{"d":"2009-12-07","s":"Storbritannia","v":3.77},{"d":"2009-12-13","s":"Storbritannia","v":3.88},{"d":"2009-12-18","s":"Storbritannia","v":3.85},{"d":"2009-12-24","s":"Storbritannia","v":3.91},{"d":"2009-12-28","s":"Storbritannia","v":4.06},
{"d":"2010-01-04","s":"Storbritannia","v":4.03},{"d":"2010-01-10","s":"Storbritannia","v":4.00},{"d":"2010-01-15","s":"Storbritannia","v":3.97},{"d":"2010-01-21","s":"Storbritannia","v":3.94},{"d":"2010-01-26","s":"Storbritannia","v":3.91},{"d":"2010-02-03","s":"Storbritannia","v":3.88},{"d":"2010-02-06","s":"Storbritannia","v":3.94},{"d":"2010-02-12","s":"Storbritannia","v":4.03},{"d":"2010-02-17","s":"Storbritannia","v":4.06},{"d":"2010-02-23","s":"Storbritannia","v":4.22},{"d":"2010-02-27","s":"Storbritannia","v":4.03},{"d":"2010-03-03","s":"Storbritannia","v":4.03},{"d":"2010-03-08","s":"Storbritannia","v":4.06},{"d":"2010-03-12","s":"Storbritannia","v":4.15},{"d":"2010-03-18","s":"Storbritannia","v":4.00},{"d":"2010-03-23","s":"Storbritannia","v":3.93},{"d":"2010-03-29","s":"Storbritannia","v":4.03},{"d":"2010-04-05","s":"Storbritannia","v":4.00},{"d":"2010-04-09","s":"Storbritannia","v":4.06},{"d":"2010-04-14","s":"Storbritannia","v":4.03},{"d":"2010-04-20","s":"Storbritannia","v":4.00},{"d":"2010-04-23","s":"Storbritannia","v":4.05},{"d":"2010-04-29","s":"Storbritannia","v":3.94},{"d":"2010-05-05","s":"Storbritannia","v":3.87},{"d":"2010-05-11","s":"Storbritannia","v":3.91},{"d":"2010-05-16","s":"Storbritannia","v":3.74},{"d":"2010-05-22","s":"Storbritannia","v":3.62},{"d":"2010-05-26","s":"Storbritannia","v":3.62},{"d":"2010-06-02","s":"Storbritannia","v":3.53},{"d":"2010-06-07","s":"Storbritannia","v":3.53},{"d":"2010-06-11","s":"Storbritannia","v":3.56},{"d":"2010-06-17","s":"Storbritannia","v":3.47},{"d":"2010-06-22","s":"Storbritannia","v":3.50},{"d":"2010-06-28","s":"Storbritannia","v":3.35},{"d":"2010-07-04","s":"Storbritannia","v":3.35},{"d":"2010-07-10","s":"Storbritannia","v":3.35},{"d":"2010-07-15","s":"Storbritannia","v":3.37},{"d":"2010-07-21","s":"Storbritannia","v":3.35},{"d":"2010-07-26","s":"Storbritannia","v":3.50},{"d":"2010-08-01","s":"Storbritannia","v":3.32},{"d":"2010-08-07","s":"Storbritannia","v":3.26},{"d":"2010-08-12","s":"Storbritannia","v":3.18},{"d":"2010-08-18","s":"Storbritannia","v":3.00},{"d":"2010-08-23","s":"Storbritannia","v":2.94},{"d":"2010-08-28","s":"Storbritannia","v":2.85},{"d":"2010-09-03","s":"Storbritannia","v":2.94},{"d":"2010-09-07","s":"Storbritannia","v":3.06},{"d":"2010-09-12","s":"Storbritannia","v":3.12},{"d":"2010-09-18","s":"Storbritannia","v":3.12},{"d":"2010-09-21","s":"Storbritannia","v":3.15},{"d":"2010-09-25","s":"Storbritannia","v":3.00},{"d":"2010-10-02","s":"Storbritannia","v":2.97},{"d":"2010-10-07","s":"Storbritannia","v":2.94},{"d":"2010-10-13","s":"Storbritannia","v":2.88},{"d":"2010-10-18","s":"Storbritannia","v":2.97},{"d":"2010-10-24","s":"Storbritannia","v":3.00},{"d":"2010-10-29","s":"Storbritannia","v":3.16},{"d":"2010-11-06","s":"Storbritannia","v":3.00},{"d":"2010-11-11","s":"Storbritannia","v":3.15},{"d":"2010-11-17","s":"Storbritannia","v":3.29},{"d":"2010-11-22","s":"Storbritannia","v":3.35},{"d":"2010-11-28","s":"Storbritannia","v":3.35},{"d":"2010-12-04","s":"Storbritannia","v":3.47},{"d":"2010-12-10","s":"Storbritannia","v":3.53},{"d":"2010-12-15","s":"Storbritannia","v":3.44},{"d":"2010-12-21","s":"Storbritannia","v":3.53},{"d":"2010-12-26","s":"Storbritannia","v":3.56},
{"d":"2011-01-02","s":"Storbritannia","v":3.41},{"d":"2011-01-08","s":"Storbritannia","v":3.56},{"d":"2011-01-13","s":"Storbritannia","v":3.62},{"d":"2011-01-19","s":"Storbritannia","v":3.65},{"d":"2011-01-24","s":"Storbritannia","v":3.66},{"d":"2011-02-01","s":"Storbritannia","v":3.68},{"d":"2011-02-07","s":"Storbritannia","v":3.74},{"d":"2011-02-12","s":"Storbritannia","v":3.82},{"d":"2011-02-18","s":"Storbritannia","v":3.74},{"d":"2011-02-23","s":"Storbritannia","v":3.62},{"d":"2011-02-28","s":"Storbritannia","v":3.68},{"d":"2011-03-05","s":"Storbritannia","v":3.53},{"d":"2011-03-11","s":"Storbritannia","v":3.47},{"d":"2011-03-16","s":"Storbritannia","v":3.53},{"d":"2011-03-22","s":"Storbritannia","v":3.56},{"d":"2011-03-27","s":"Storbritannia","v":3.59},{"d":"2011-04-04","s":"Storbritannia","v":3.71},{"d":"2011-04-09","s":"Storbritannia","v":3.80},{"d":"2011-04-15","s":"Storbritannia","v":3.68},{"d":"2011-04-20","s":"Storbritannia","v":3.56},{"d":"2011-04-26","s":"Storbritannia","v":3.50},{"d":"2011-05-02","s":"Storbritannia","v":3.47},{"d":"2011-05-08","s":"Storbritannia","v":3.38},{"d":"2011-05-13","s":"Storbritannia","v":3.38},{"d":"2011-05-19","s":"Storbritannia","v":3.35},{"d":"2011-05-24","s":"Storbritannia","v":3.29},{"d":"2011-05-30","s":"Storbritannia","v":3.26},{"d":"2011-06-06","s":"Storbritannia","v":3.23},{"d":"2011-06-11","s":"Storbritannia","v":3.21},{"d":"2011-06-17","s":"Storbritannia","v":3.21},{"d":"2011-06-22","s":"Storbritannia","v":3.15},{"d":"2011-06-28","s":"Storbritannia","v":3.35},{"d":"2011-07-03","s":"Storbritannia","v":3.35},{"d":"2011-07-06","s":"Storbritannia","v":3.15},{"d":"2011-07-12","s":"Storbritannia","v":3.12},{"d":"2011-07-17","s":"Storbritannia","v":3.06},{"d":"2011-07-23","s":"Storbritannia","v":3.06},{"d":"2011-07-28","s":"Storbritannia","v":2.82},{"d":"2011-08-03","s":"Storbritannia","v":2.67},{"d":"2011-08-09","s":"Storbritannia","v":2.53},{"d":"2011-08-14","s":"Storbritannia","v":2.50},{"d":"2011-08-20","s":"Storbritannia","v":2.41},{"d":"2011-08-23","s":"Storbritannia","v":2.53},{"d":"2011-08-29","s":"Storbritannia","v":2.62},{"d":"2011-09-04","s":"Storbritannia","v":2.47},{"d":"2011-09-09","s":"Storbritannia","v":2.32},{"d":"2011-09-13","s":"Storbritannia","v":2.35},{"d":"2011-09-16","s":"Storbritannia","v":2.51},{"d":"2011-09-22","s":"Storbritannia","v":2.39},
{"d":"2007-01-02","s":"Norge","v":4.31},{"d":"2007-01-11","s":"Norge","v":4.37},{"d":"2007-01-23","s":"Norge","v":4.39},{"d":"2007-01-29","s":"Norge","v":4.53},{"d":"2007-02-07","s":"Norge","v":4.50},{"d":"2007-02-13","s":"Norge","v":4.55},{"d":"2007-02-24","s":"Norge","v":4.53},{"d":"2007-02-28","s":"Norge","v":4.43},{"d":"2007-03-07","s":"Norge","v":4.44},{"d":"2007-03-13","s":"Norge","v":4.40},{"d":"2007-03-22","s":"Norge","v":4.50},{"d":"2007-03-28","s":"Norge","v":4.58},{"d":"2007-04-08","s":"Norge","v":4.59},{"d":"2007-04-11","s":"Norge","v":4.72},{"d":"2007-04-21","s":"Norge","v":4.78},{"d":"2007-05-01","s":"Norge","v":4.83},{"d":"2007-05-06","s":"Norge","v":4.86},{"d":"2007-05-10","s":"Norge","v":4.77},{"d":"2007-05-21","s":"Norge","v":4.89},{"d":"2007-05-28","s":"Norge","v":4.96},{"d":"2007-06-05","s":"Norge","v":5.05},{"d":"2007-06-10","s":"Norge","v":5.27},{"d":"2007-06-18","s":"Norge","v":5.26},{"d":"2007-06-25","s":"Norge","v":5.20},{"d":"2007-07-02","s":"Norge","v":5.14},{"d":"2007-07-05","s":"Norge","v":5.21},{"d":"2007-07-11","s":"Norge","v":5.18},{"d":"2007-07-16","s":"Norge","v":5.09},{"d":"2007-07-22","s":"Norge","v":4.97},{"d":"2007-08-02","s":"Norge","v":4.95},{"d":"2007-08-07","s":"Norge","v":4.99},{"d":"2007-08-13","s":"Norge","v":4.87},{"d":"2007-08-18","s":"Norge","v":4.83},{"d":"2007-08-26","s":"Norge","v":4.84},{"d":"2007-08-29","s":"Norge","v":4.77},{"d":"2007-09-06","s":"Norge","v":4.74},{"d":"2007-09-11","s":"Norge","v":4.67},{"d":"2007-09-15","s":"Norge","v":4.69},{"d":"2007-09-20","s":"Norge","v":4.96},{"d":"2007-09-26","s":"Norge","v":4.97},{"d":"2007-10-04","s":"Norge","v":4.93},{"d":"2007-10-12","s":"Norge","v":4.96},{"d":"2007-10-15","s":"Norge","v":5.03},{"d":"2007-10-19","s":"Norge","v":4.89},{"d":"2007-10-26","s":"Norge","v":4.83},{"d":"2007-11-05","s":"Norge","v":4.86},{"d":"2007-11-12","s":"Norge","v":4.80},{"d":"2007-11-19","s":"Norge","v":4.77},{"d":"2007-11-25","s":"Norge","v":4.71},{"d":"2007-12-01","s":"Norge","v":4.69},{"d":"2007-12-07","s":"Norge","v":4.46},{"d":"2007-12-11","s":"Norge","v":4.77},{"d":"2007-12-18","s":"Norge","v":4.69},{"d":"2007-12-23","s":"Norge","v":4.71},{"d":"2007-12-29","s":"Norge","v":4.68},
{"d":"2008-01-05","s":"Norge","v":4.56},{"d":"2008-01-11","s":"Norge","v":4.62},{"d":"2008-01-16","s":"Norge","v":4.59},{"d":"2008-01-22","s":"Norge","v":4.53},{"d":"2008-01-26","s":"Norge","v":4.47},{"d":"2008-02-02","s":"Norge","v":4.46},{"d":"2008-02-06","s":"Norge","v":4.28},{"d":"2008-02-11","s":"Norge","v":4.36},{"d":"2008-02-17","s":"Norge","v":4.44},{"d":"2008-02-24","s":"Norge","v":4.43},{"d":"2008-02-29","s":"Norge","v":4.43},{"d":"2008-03-06","s":"Norge","v":4.33},{"d":"2008-03-11","s":"Norge","v":4.27},{"d":"2008-03-17","s":"Norge","v":4.13},{"d":"2008-03-22","s":"Norge","v":4.27},{"d":"2008-03-28","s":"Norge","v":4.41},{"d":"2008-04-04","s":"Norge","v":4.46},{"d":"2008-04-10","s":"Norge","v":4.46},{"d":"2008-04-16","s":"Norge","v":4.50},{"d":"2008-04-21","s":"Norge","v":4.67},{"d":"2008-04-27","s":"Norge","v":4.58},{"d":"2008-05-03","s":"Norge","v":4.50},{"d":"2008-05-09","s":"Norge","v":4.46},{"d":"2008-05-12","s":"Norge","v":4.59},{"d":"2008-05-18","s":"Norge","v":4.71},{"d":"2008-05-23","s":"Norge","v":4.80},{"d":"2008-05-29","s":"Norge","v":4.77},{"d":"2008-06-05","s":"Norge","v":4.89},{"d":"2008-06-12","s":"Norge","v":4.96},{"d":"2008-06-16","s":"Norge","v":5.03},{"d":"2008-06-22","s":"Norge","v":5.08},{"d":"2008-06-29","s":"Norge","v":5.09},{"d":"2008-07-04","s":"Norge","v":5.02},{"d":"2008-07-05","s":"Norge","v":4.90},{"d":"2008-07-11","s":"Norge","v":4.89},{"d":"2008-07-15","s":"Norge","v":4.83},{"d":"2008-07-20","s":"Norge","v":5.06},{"d":"2008-07-24","s":"Norge","v":5.08},{"d":"2008-07-27","s":"Norge","v":4.97},{"d":"2008-08-04","s":"Norge","v":4.89},{"d":"2008-08-09","s":"Norge","v":4.75},{"d":"2008-08-15","s":"Norge","v":4.67},{"d":"2008-08-20","s":"Norge","v":4.69},{"d":"2008-08-26","s":"Norge","v":4.68},{"d":"2008-09-02","s":"Norge","v":4.59},{"d":"2008-09-08","s":"Norge","v":4.62},{"d":"2008-09-13","s":"Norge","v":4.55},{"d":"2008-09-17","s":"Norge","v":4.83},{"d":"2008-09-21","s":"Norge","v":4.86},{"d":"2008-09-24","s":"Norge","v":4.77},{"d":"2008-09-26","s":"Norge","v":4.50},{"d":"2008-09-30","s":"Norge","v":4.27},{"d":"2008-10-07","s":"Norge","v":3.88},{"d":"2008-10-10","s":"Norge","v":4.18},{"d":"2008-10-14","s":"Norge","v":4.46},{"d":"2008-10-19","s":"Norge","v":4.36},{"d":"2008-10-23","s":"Norge","v":4.15},{"d":"2008-10-27","s":"Norge","v":4.24},{"d":"2008-11-01","s":"Norge","v":4.33},{"d":"2008-11-07","s":"Norge","v":4.30},{"d":"2008-11-12","s":"Norge","v":4.27},{"d":"2008-11-18","s":"Norge","v":4.46},{"d":"2008-11-22","s":"Norge","v":4.18},{"d":"2008-11-27","s":"Norge","v":4.00},{"d":"2008-12-02","s":"Norge","v":3.85},{"d":"2008-12-05","s":"Norge","v":3.65},{"d":"2008-12-11","s":"Norge","v":4.00},{"d":"2008-12-14","s":"Norge","v":4.00},{"d":"2008-12-18","s":"Norge","v":3.71},{"d":"2008-12-24","s":"Norge","v":3.71},{"d":"2008-12-29","s":"Norge","v":3.82},
{"d":"2009-01-04","s":"Norge","v":3.85},{"d":"2009-01-07","s":"Norge","v":4.05},{"d":"2009-01-11","s":"Norge","v":3.82},{"d":"2009-01-15","s":"Norge","v":3.56},{"d":"2009-01-20","s":"Norge","v":3.53},{"d":"2009-01-24","s":"Norge","v":3.80},{"d":"2009-01-29","s":"Norge","v":3.71},{"d":"2009-02-06","s":"Norge","v":3.77},{"d":"2009-02-09","s":"Norge","v":3.94},{"d":"2009-02-15","s":"Norge","v":3.80},{"d":"2009-02-21","s":"Norge","v":3.82},{"d":"2009-02-28","s":"Norge","v":3.84},{"d":"2009-03-04","s":"Norge","v":3.77},{"d":"2009-03-10","s":"Norge","v":3.85},{"d":"2009-03-16","s":"Norge","v":4.00},{"d":"2009-03-21","s":"Norge","v":3.88},{"d":"2009-03-27","s":"Norge","v":4.03},{"d":"2009-04-01","s":"Norge","v":3.82},{"d":"2009-04-07","s":"Norge","v":4.00},{"d":"2009-04-14","s":"Norge","v":3.97},{"d":"2009-04-20","s":"Norge","v":3.94},{"d":"2009-04-27","s":"Norge","v":3.94},{"d":"2009-05-03","s":"Norge","v":3.97},{"d":"2009-05-07","s":"Norge","v":4.12},{"d":"2009-05-13","s":"Norge","v":4.06},{"d":"2009-05-18","s":"Norge","v":4.12},{"d":"2009-05-24","s":"Norge","v":4.30},{"d":"2009-05-29","s":"Norge","v":4.30},{"d":"2009-06-06","s":"Norge","v":4.36},{"d":"2009-06-11","s":"Norge","v":4.27},{"d":"2009-06-18","s":"Norge","v":4.27},{"d":"2009-06-24","s":"Norge","v":4.18},{"d":"2009-06-29","s":"Norge","v":4.12},{"d":"2009-07-06","s":"Norge","v":4.06},{"d":"2009-07-11","s":"Norge","v":4.06},{"d":"2009-07-19","s":"Norge","v":4.09},{"d":"2009-07-26","s":"Norge","v":4.09},{"d":"2009-08-02","s":"Norge","v":4.06},{"d":"2009-08-06","s":"Norge","v":4.21},{"d":"2009-08-13","s":"Norge","v":4.21},{"d":"2009-08-21","s":"Norge","v":4.25},{"d":"2009-08-26","s":"Norge","v":4.21},{"d":"2009-09-03","s":"Norge","v":4.09},{"d":"2009-09-08","s":"Norge","v":4.18},{"d":"2009-09-16","s":"Norge","v":4.18},{"d":"2009-09-23","s":"Norge","v":4.30},{"d":"2009-09-27","s":"Norge","v":4.18},{"d":"2009-10-03","s":"Norge","v":4.09},{"d":"2009-10-09","s":"Norge","v":4.08},{"d":"2009-10-16","s":"Norge","v":4.05},{"d":"2009-10-23","s":"Norge","v":4.06},{"d":"2009-11-02","s":"Norge","v":4.09},{"d":"2009-11-09","s":"Norge","v":4.10},{"d":"2009-11-13","s":"Norge","v":4.09},{"d":"2009-11-18","s":"Norge","v":4.09},{"d":"2009-11-24","s":"Norge","v":4.00},{"d":"2009-11-29","s":"Norge","v":3.88},{"d":"2009-12-04","s":"Norge","v":3.94},{"d":"2009-12-09","s":"Norge","v":3.97},{"d":"2009-12-15","s":"Norge","v":3.94},{"d":"2009-12-20","s":"Norge","v":3.94},{"d":"2009-12-24","s":"Norge","v":4.12},{"d":"2009-12-29","s":"Norge","v":4.13},
{"d":"2010-01-06","s":"Norge","v":4.18},{"d":"2010-01-11","s":"Norge","v":4.06},{"d":"2010-01-17","s":"Norge","v":4.03},{"d":"2010-01-24","s":"Norge","v":4.00},{"d":"2010-02-02","s":"Norge","v":3.94},{"d":"2010-02-08","s":"Norge","v":3.88},{"d":"2010-02-13","s":"Norge","v":3.82},{"d":"2010-02-19","s":"Norge","v":3.82},{"d":"2010-02-23","s":"Norge","v":3.77},{"d":"2010-02-26","s":"Norge","v":3.62},{"d":"2010-03-03","s":"Norge","v":3.68},{"d":"2010-03-08","s":"Norge","v":3.74},{"d":"2010-03-12","s":"Norge","v":3.88},{"d":"2010-03-18","s":"Norge","v":3.79},{"d":"2010-03-23","s":"Norge","v":3.77},{"d":"2010-03-29","s":"Norge","v":3.74},{"d":"2010-04-05","s":"Norge","v":3.74},{"d":"2010-04-11","s":"Norge","v":3.74},{"d":"2010-04-18","s":"Norge","v":3.77},{"d":"2010-04-23","s":"Norge","v":3.74},{"d":"2010-04-29","s":"Norge","v":3.62},{"d":"2010-05-04","s":"Norge","v":3.62},{"d":"2010-05-05","s":"Norge","v":3.18},{"d":"2010-05-09","s":"Norge","v":3.35},{"d":"2010-05-15","s":"Norge","v":3.35},{"d":"2010-05-20","s":"Norge","v":3.29},{"d":"2010-05-24","s":"Norge","v":3.20},{"d":"2010-05-26","s":"Norge","v":3.50},{"d":"2010-06-02","s":"Norge","v":3.47},{"d":"2010-06-07","s":"Norge","v":3.53},{"d":"2010-06-13","s":"Norge","v":3.47},{"d":"2010-06-18","s":"Norge","v":3.68},{"d":"2010-06-22","s":"Norge","v":3.53},{"d":"2010-06-28","s":"Norge","v":3.50},{"d":"2010-07-04","s":"Norge","v":3.53},{"d":"2010-07-08","s":"Norge","v":3.59},{"d":"2010-07-13","s":"Norge","v":3.47},{"d":"2010-07-19","s":"Norge","v":3.38},{"d":"2010-07-26","s":"Norge","v":3.38},{"d":"2010-08-03","s":"Norge","v":3.34},{"d":"2010-08-10","s":"Norge","v":3.29},{"d":"2010-08-16","s":"Norge","v":3.20},{"d":"2010-08-21","s":"Norge","v":3.12},{"d":"2010-08-27","s":"Norge","v":3.06},{"d":"2010-09-03","s":"Norge","v":3.26},{"d":"2010-09-05","s":"Norge","v":3.44},{"d":"2010-09-11","s":"Norge","v":3.53},{"d":"2010-09-16","s":"Norge","v":3.50},{"d":"2010-09-21","s":"Norge","v":3.50},{"d":"2010-09-25","s":"Norge","v":3.32},{"d":"2010-10-02","s":"Norge","v":3.31},{"d":"2010-10-07","s":"Norge","v":3.26},{"d":"2010-10-13","s":"Norge","v":3.15},{"d":"2010-10-18","s":"Norge","v":3.35},{"d":"2010-10-24","s":"Norge","v":3.47},{"d":"2010-11-02","s":"Norge","v":3.23},{"d":"2010-11-07","s":"Norge","v":3.29},{"d":"2010-11-13","s":"Norge","v":3.29},{"d":"2010-11-18","s":"Norge","v":3.50},{"d":"2010-11-24","s":"Norge","v":3.47},{"d":"2010-11-29","s":"Norge","v":3.53},{"d":"2010-12-06","s":"Norge","v":3.62},{"d":"2010-12-11","s":"Norge","v":3.62},{"d":"2010-12-17","s":"Norge","v":3.74},{"d":"2010-12-22","s":"Norge","v":3.71},{"d":"2010-12-28","s":"Norge","v":3.80},
{"d":"2011-01-04","s":"Norge","v":3.71},{"d":"2011-01-10","s":"Norge","v":3.77},{"d":"2011-01-16","s":"Norge","v":3.85},{"d":"2011-01-21","s":"Norge","v":3.88},{"d":"2011-01-26","s":"Norge","v":3.87},{"d":"2011-02-03","s":"Norge","v":3.88},{"d":"2011-02-08","s":"Norge","v":3.91},{"d":"2011-02-12","s":"Norge","v":3.93},{"d":"2011-02-18","s":"Norge","v":3.85},{"d":"2011-02-23","s":"Norge","v":3.82},{"d":"2011-02-28","s":"Norge","v":3.77},{"d":"2011-03-05","s":"Norge","v":3.82},{"d":"2011-03-11","s":"Norge","v":3.80},{"d":"2011-03-16","s":"Norge","v":3.77},{"d":"2011-03-22","s":"Norge","v":3.82},{"d":"2011-03-27","s":"Norge","v":3.80},{"d":"2011-04-04","s":"Norge","v":3.85},{"d":"2011-04-09","s":"Norge","v":3.90},{"d":"2011-04-13","s":"Norge","v":3.88},{"d":"2011-04-18","s":"Norge","v":3.80},{"d":"2011-04-24","s":"Norge","v":3.77},{"d":"2011-04-29","s":"Norge","v":3.74},{"d":"2011-05-06","s":"Norge","v":3.71},{"d":"2011-05-09","s":"Norge","v":3.56},{"d":"2011-05-15","s":"Norge","v":3.47},{"d":"2011-05-20","s":"Norge","v":3.47},{"d":"2011-05-26","s":"Norge","v":3.41},{"d":"2011-06-02","s":"Norge","v":3.38},{"d":"2011-06-08","s":"Norge","v":3.37},{"d":"2011-06-13","s":"Norge","v":3.32},{"d":"2011-06-17","s":"Norge","v":3.35},{"d":"2011-06-21","s":"Norge","v":3.47},{"d":"2011-06-26","s":"Norge","v":3.41},{"d":"2011-07-03","s":"Norge","v":3.43},{"d":"2011-07-08","s":"Norge","v":3.38},{"d":"2011-07-12","s":"Norge","v":3.23},{"d":"2011-07-16","s":"Norge","v":3.18},{"d":"2011-07-21","s":"Norge","v":3.29},{"d":"2011-07-25","s":"Norge","v":3.20},{"d":"2011-07-29","s":"Norge","v":2.97},{"d":"2011-08-03","s":"Norge","v":2.64},{"d":"2011-08-09","s":"Norge","v":2.70},{"d":"2011-08-14","s":"Norge","v":2.50},{"d":"2011-08-18","s":"Norge","v":2.23},{"d":"2011-08-23","s":"Norge","v":2.62},{"d":"2011-08-27","s":"Norge","v":2.70},{"d":"2011-09-02","s":"Norge","v":2.85},{"d":"2011-09-05","s":"Norge","v":2.59},{"d":"2011-09-09","s":"Norge","v":2.29},{"d":"2011-09-13","s":"Norge","v":2.14},{"d":"2011-09-16","s":"Norge","v":2.35},{"d":"2011-09-22","s":"Norge","v":2.33}
]},
"mark":{"type":"line","strokeWidth":6,"strokeJoin":"round","strokeCap":"round"},
"encoding":{
"x":{"field":"d","type":"temporal",
"scale":{"type":"utc","domain":[{"year":2007,"month":1,"date":1,"utc":true},{"year":2011,"month":10,"date":1,"utc":true}]},
"axis":{"orient":"bottom","values":[{"year":2007,"month":1,"date":1,"utc":true},{"year":2007,"month":10,"date":1,"utc":true},{"year":2008,"month":7,"date":1,"utc":true},{"year":2009,"month":4,"date":1,"utc":true},{"year":2010,"month":1,"date":1,"utc":true},{"year":2010,"month":10,"date":1,"utc":true},{"year":2011,"month":7,"date":1,"utc":true}],
"tickSize":-13,"labelPadding":51,"labelExpr":"['jan.','feb.','mar.','apr.','mai','jun.','jul.','aug.','sep.','okt.','nov.','des.'][utcmonth(datum.value)] + ' ' + utcFormat(datum.value, '%y')"}},
"y":{"field":"v","type":"quantitative",
"scale":{"domain":[1.5,6],"nice":false,"zero":false},
"axis":{"orient":"left","values":[1.5,2,2.5,3,3.5,4,4.5,5,5.5,6],"tickSize":-14,"labelPadding":57,"labelExpr":"replace(format(datum.value,'.1~f'),'.',',')"}},
"color":{"field":"s","type":"nominal",
"scale":{"domain":["USA","Tyskland","Storbritannia","Norge"],"range":["#2f71a8","#b81208","#8dbd2a","#ea831e"]},
"legend":{"orient":"none","legendX":428,"legendY":66,"direction":"horizontal","title":null,"symbolType":"stroke","symbolSize":2916,"symbolStrokeWidth":5,"labelFontSize":36,"labelFont":"Liberation Sans","labelColor":"#000000","labelOffset":3,"columnPadding":19,"padding":0,"labelLimit":0}}
}},
{"data":{"values":[{"d":"2011-05-20"}]},
"mark":{"type":"rule","color":"#000000","strokeWidth":4},
"encoding":{
"x":{"field":"d","type":"temporal"},
"y":{"datum":1.5,"type":"quantitative","axis":{"orient":"right","values":[1.5,2,2.5,3,3.5,4,4.5,5,5.5,6],"tickSize":-14,"labelPadding":56,"labelExpr":"replace(format(datum.value,'.1~f'),'.',',')"}},
"y2":{"datum":6}
}}
],
"resolve":{"axis":{"y":"independent"}}
}
